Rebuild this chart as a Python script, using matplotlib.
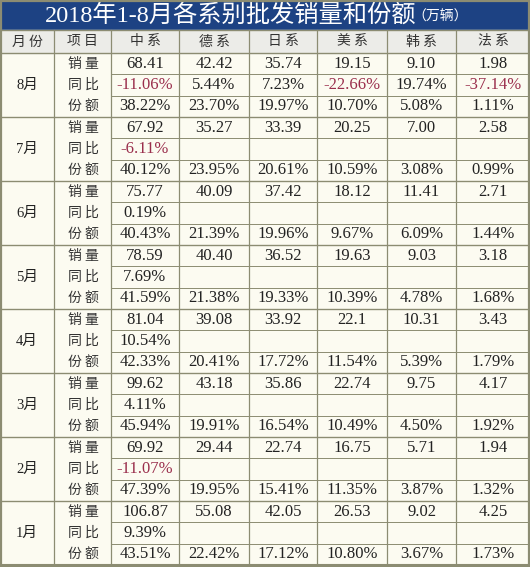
import matplotlib
matplotlib.use("Agg")
import matplotlib.pyplot as plt
from matplotlib.patches import Rectangle

# table contents
months = ["8月", "7月", "6月", "5月", "4月", "3月", "2月", "1月"]
items = ["销量", "同比", "份额"]
series = ["中系", "德系", "日系", "美系", "韩系", "法系"]

sales_zh = ["68.41", "67.92", "75.77", "78.59", "81.04", "99.62", "69.92", "106.87"]
sales_de = ["42.42", "35.27", "40.09", "40.40", "39.08", "43.18", "29.44", "55.08"]
sales_jp = ["35.74", "33.39", "37.42", "36.52", "33.92", "35.86", "22.74", "42.05"]
sales_us = ["19.15", "20.25", "18.12", "19.63", "22.1", "22.74", "16.75", "26.53"]
sales_kr = ["9.10", "7.00", "11.41", "9.03", "10.31", "9.75", "5.71", "9.02"]
sales_fr = ["1.98", "2.58", "2.71", "3.18", "3.43", "4.17", "1.94", "4.25"]

yoy_zh = ["-11.06%", "-6.11%", "0.19%", "7.69%", "10.54%", "4.11%", "-11.07%", "9.39%"]
yoy_de = ["5.44%", "", "", "", "", "", "", ""]
yoy_jp = ["7.23%", "", "", "", "", "", "", ""]
yoy_us = ["-22.66%", "", "", "", "", "", "", ""]
yoy_kr = ["19.74%", "", "", "", "", "", "", ""]
yoy_fr = ["-37.14%", "", "", "", "", "", "", ""]

share_zh = ["38.22%", "40.12%", "40.43%", "41.59%", "42.33%", "45.94%", "47.39%", "43.51%"]
share_de = ["23.70%", "23.95%", "21.39%", "21.38%", "20.41%", "19.91%", "19.95%", "22.42%"]
share_jp = ["19.97%", "20.61%", "19.96%", "19.33%", "17.72%", "16.54%", "15.41%", "17.12%"]
share_us = ["10.70%", "10.59%", "9.67%", "10.39%", "11.54%", "10.49%", "11.35%", "10.80%"]
share_kr = ["5.08%", "3.08%", "6.09%", "4.78%", "5.39%", "4.50%", "3.87%", "3.67%"]
share_fr = ["1.11%", "0.99%", "1.44%", "1.68%", "1.79%", "1.92%", "1.32%", "1.73%"]

sales = [sales_zh, sales_de, sales_jp, sales_us, sales_kr, sales_fr]
yoy = [yoy_zh, yoy_de, yoy_jp, yoy_us, yoy_kr, yoy_fr]
share = [share_zh, share_de, share_jp, share_us, share_kr, share_fr]

title = "2018年1-8月各系别批发销量和份额"
unit = "（万辆）"

# layout in pixels
W, H = 530, 567
col_x = [0, 54, 111, 179, 249, 317, 387, 456, 530]
title_h = 30
head_top, head_bot = 30, 53
row_h = (565 - head_bot) / 24

navy = "#1d4283"
cream = "#fcfbf1"
head_bg = "#ecece8"
grid = "#8c8c72"
red = "#9a2e4c"
ink = "#222222"
num_font = ["Liberation Serif", "Noto Sans CJK SC"]
cjk_font = ["Noto Sans CJK SC", "DejaVu Sans"]


def spaced(s):
    return " ".join(s)


fig = plt.figure(figsize=(W / 100, H / 100), dpi=100)
ax = fig.add_axes([0, 0, 1, 1])
ax.set_xlim(0, W)
ax.set_ylim(H, 0)
ax.axis("off")

ax.add_patch(Rectangle((0, 0), W, H, color=cream, zorder=0))
ax.add_patch(Rectangle((0, 0), W, title_h, color=navy, zorder=1))
ax.add_patch(Rectangle((0, head_top), W, head_bot - head_top, color=head_bg, zorder=1))

ax.text(45, title_h / 2 + 1, title, color="white", fontsize=17.5,
        family=num_font, ha="left", va="center", zorder=3)
ax.text(412, title_h / 2 + 2, unit, color="white", fontsize=10,
        family=cjk_font, ha="left", va="center", zorder=3)

# header row
headers = ["月份", "项目"] + series
for i, h in enumerate(headers):
    cx = (col_x[i] + col_x[i + 1]) / 2
    ax.text(cx, (head_top + head_bot) / 2, spaced(h),
            fontsize=10, family=cjk_font, color="#333333",
            ha="center", va="center", zorder=3)

# body
for m, month in enumerate(months):
    top = head_bot + m * 3 * row_h
    ax.text((col_x[0] + col_x[1]) / 2, top + 1.5 * row_h, month, fontsize=10.5,
            family=num_font, color=ink, ha="center", va="center", zorder=3)
    for r, item in enumerate(items):
        cy = top + (r + 0.5) * row_h
        ax.text((col_x[1] + col_x[2]) / 2 + 1, cy, spaced(item), fontsize=10,
                family=cjk_font, color="#333333", ha="center", va="center", zorder=3)
        vals = [sales, yoy, share][r]
        for s in range(len(series)):
            v = vals[s][m]
            if not v:
                continue
            cx = (col_x[s + 2] + col_x[s + 3]) / 2
            ax.text(cx, cy, v, fontsize=12, family=num_font,
                    color=red if v.startswith("-") else ink,
                    ha="center", va="center", zorder=3)
        if r > 0:
            ax.plot([col_x[2], W], [top + r * row_h] * 2, color=grid, lw=0.7, zorder=2)
    ax.plot([0, W], [top, top], color=grid, lw=1.0, zorder=2)

# vertical lines
for x in col_x[1:-1]:
    ax.plot([x, x], [head_top, 565], color=grid, lw=0.9, zorder=2)
ax.plot([0, W], [head_top, head_top], color=grid, lw=1.0, zorder=2)
ax.plot([0, W], [565, 565], color=grid, lw=1.5, zorder=2)

# outer frame
ax.add_patch(Rectangle((0.8, 0.8), W - 1.6, H - 1.6, fill=False,
                       edgecolor=grid, lw=1.6, zorder=4))

fig.savefig("out.png", dpi=100, facecolor=cream)
